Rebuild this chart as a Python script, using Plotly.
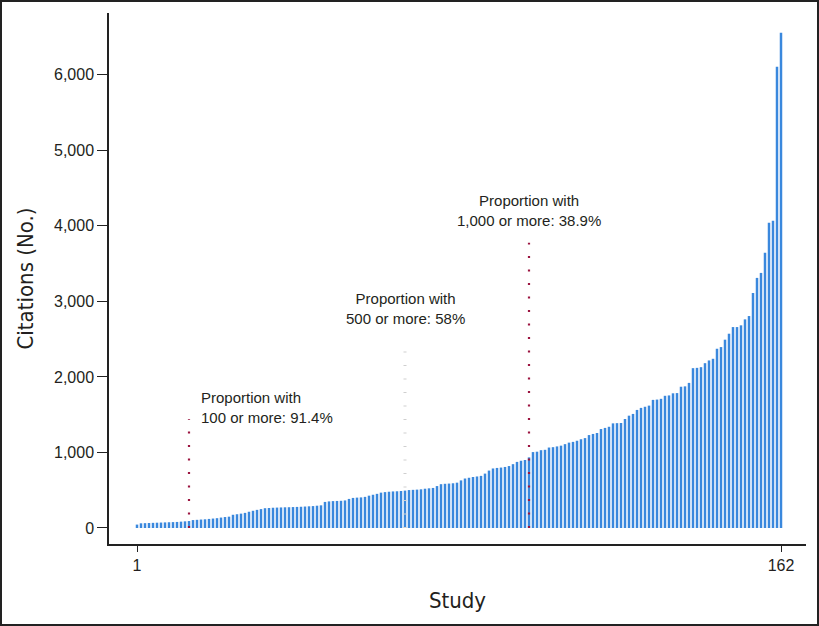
import plotly.graph_objects as go

study = list(range(1, 163))
citations = [
    45, 62, 64, 66, 68, 70, 72, 74, 76, 78, 80, 84, 88, 92,
    105, 108, 112, 115, 120, 125, 130, 138, 145, 150, 175, 182, 190, 200, 215, 228, 240, 250, 262,
    265, 268, 270, 272, 274, 275, 277, 279, 281, 284, 287, 290, 295, 300, 345, 352, 356, 358, 360,
    365, 385, 398, 402, 405, 412, 428, 440, 452, 468, 475, 480, 484, 486, 490, 495,
    502, 505, 508, 512, 520, 525, 530, 555, 580, 585, 588, 592, 600, 630, 655, 665, 675, 682,
    690, 720, 760, 788, 795, 800, 808, 820, 845, 875, 890, 900, 935,
    1005, 1010, 1030, 1035, 1065, 1070, 1080, 1090, 1110, 1130, 1140, 1155, 1175, 1190, 1230,
    1245, 1258, 1310, 1325, 1340, 1385, 1388, 1390, 1443, 1487, 1510, 1563, 1590, 1605, 1620,
    1696, 1700, 1710, 1750, 1755, 1783, 1786, 1870, 1875, 1921, 2116, 2120, 2129, 2182, 2218,
    2240, 2373, 2395, 2493, 2572,
    2660, 2660, 2683, 2762, 2806, 3111, 3311, 3377, 3643, 4041, 4068, 6105, 6556,
]

thresholds = [100, 500, 1000]
line_tops = [1440, 2340, 3775]
line_colors = ["#9b1540", "#cfcfcf", "#9b1540"]
line_widths = [2.2, 3, 2.2]
line_dashes = ["2px,11.5px", "1px,12.5px", "2px,11.5px"]
labels = [
    "Proportion with<br>100 or more: 91.4%",
    "Proportion with<br>500 or more: 58%",
    "Proportion with<br>1,000 or more: 38.9%",
]
label_y = [1600, 2900, 4200]

y_ticks = [0, 1000, 2000, 3000, 4000, 5000, 6000]
x_ticks = [1, 162]

text_color = "#231f20"
tick_font = dict(family="Liberation Sans, Arial, sans-serif", size=16, color=text_color)
title_font = dict(family="Liberation Sans Narrow, DejaVu Sans Condensed, sans-serif", size=22, color=text_color)

fig = go.Figure()
fig.add_trace(go.Bar(x=study, y=citations, marker=dict(color="#3a88dd", line=dict(width=0)),
                     showlegend=False, hoverinfo="x+y"))

for i, t in enumerate(thresholds):
    xpos = sum(1 for c in citations if c < t)
    fig.add_trace(go.Scatter(x=[xpos, xpos], y=[0, line_tops[i]], mode="lines",
                             line=dict(color=line_colors[i], width=line_widths[i], dash=line_dashes[i]),
                             showlegend=False, hoverinfo="skip"))
    if i == 0:
        fig.add_annotation(x=xpos, y=label_y[i], text=labels[i], showarrow=False,
                           xanchor="left", yanchor="middle", align="left", xshift=10,
                           font=dict(family="Liberation Sans, Arial, sans-serif", size=15, color=text_color))
    else:
        fig.add_annotation(x=xpos, y=label_y[i], text=labels[i], showarrow=False,
                           xanchor="center", yanchor="middle", align="center",
                           font=dict(family="Liberation Sans, Arial, sans-serif", size=15, color=text_color))

W, H = 819, 626
ml, mr, mt, mb = 109, 13, 13, 82
pw, ph = W - ml - mr, H - mt - mb
fig.add_shape(type="rect", xref="paper", yref="paper",
              x0=(1 - ml) / pw, x1=(W - 1 - ml) / pw,
              y0=-(mb - 1) / ph, y1=(H - mb - 1) / ph,
              line=dict(color="#222222", width=2), fillcolor="rgba(0,0,0,0)", layer="above")

fig.update_layout(
    width=W, height=H,
    margin=dict(l=ml, r=mr, t=mt, b=mb),
    paper_bgcolor="white", plot_bgcolor="white",
    bargap=0.38,
    xaxis=dict(range=[-6, 168.25], tickvals=x_ticks, ticktext=[str(v) for v in x_ticks],
               showgrid=False, zeroline=False, showline=True, linecolor="#222222", linewidth=1.5,
               ticks="outside", ticklen=6, tickwidth=1.2, tickcolor="#222222", tickfont=tick_font,
               title=dict(text="Study", font=title_font, standoff=20)),
    yaxis=dict(range=[-212, 6818], tickvals=y_ticks, tickformat=",",
               showgrid=False, zeroline=False, showline=True, linecolor="#222222", linewidth=1.5,
               ticks="outside", ticklen=10, tickwidth=1.2, tickcolor="#222222", tickfont=tick_font,
               title=dict(text="Citations (No.)", font=title_font, standoff=14)),
)

fig.write_html("out.html", config={"displayModeBar": False},
               post_script="document.body.style.margin='0';document.body.style.padding='0';")
